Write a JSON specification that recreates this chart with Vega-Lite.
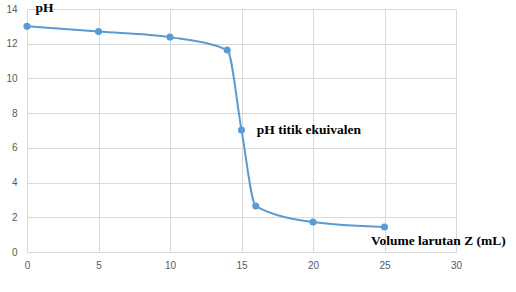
{
  "$schema": "https://vega.github.io/schema/vega-lite/v6.json",
  "width": 429,
  "height": 243,
  "autosize": {"type": "none"},
  "padding": {"left": 27, "top": 9, "right": 60, "bottom": 40},
  "background": "white",
  "config": {
    "view": {"stroke": null},
    "axis": {"labelFont": "Liberation Sans", "labelFontSize": 10, "labelColor": "#595959", "gridColor": "#D9D9D9", "ticks": false, "title": null}
  },
  "datasets": {
    "pts": [
      {"v": 0, "ph": 13.0},
      {"v": 5, "ph": 12.7},
      {"v": 10, "ph": 12.38},
      {"v": 14, "ph": 11.64},
      {"v": 15, "ph": 7.03},
      {"v": 16, "ph": 2.65},
      {"v": 20, "ph": 1.73},
      {"v": 25, "ph": 1.44}
    ],
    "labels": [
      {"v": 0.6, "ph": 14.05, "t": "pH"},
      {"v": 16.07, "ph": 7.03, "t": "pH titik ekuivalen"},
      {"v": 24.05, "ph": 0.63, "t": "Volume larutan Z (mL)"}
    ]
  },
  "encoding": {
    "x": {"field": "v", "type": "quantitative", "scale": {"domain": [0, 30], "nice": false}, "axis": {"tickCount": 8, "domainColor": "#D9D9D9", "labelPadding": 8, "labelOverlap": false, "labelFlush": false, "labelBound": false}},
    "y": {"field": "ph", "type": "quantitative", "scale": {"domain": [0, 14], "nice": false}, "axis": {"tickCount": 8, "domain": false, "labelPadding": 10, "labelOverlap": false, "labelFlush": false, "labelBound": false}}
  },
  "layer": [
    {
      "data": {"name": "pts"},
      "mark": {"type": "line", "interpolate": "monotone", "color": "#5B9BD5", "strokeWidth": 2}
    },
    {
      "data": {"name": "pts"},
      "mark": {"type": "point", "filled": true, "color": "#5B9BD5", "size": 50, "opacity": 1}
    },
    {
      "data": {"name": "labels"},
      "mark": {"type": "text", "align": "left", "baseline": "middle", "font": "Liberation Serif", "fontWeight": "bold", "fontSize": 13.5, "color": "#000000", "clip": false},
      "encoding": {
        "text": {"field": "t"}
      }
    }
  ]
}
